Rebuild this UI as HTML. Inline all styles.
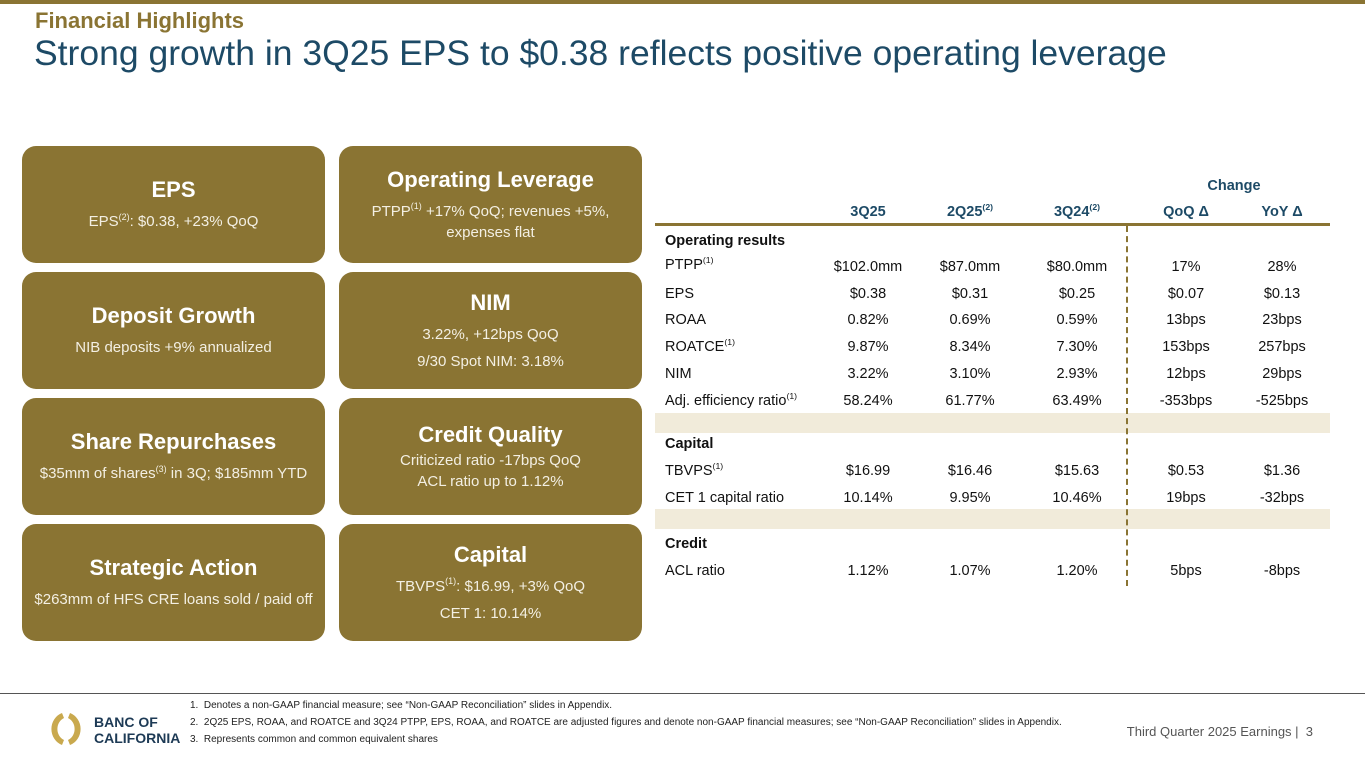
<!DOCTYPE html>
<html><head><meta charset="utf-8"><style>
*{margin:0;padding:0;box-sizing:border-box}
body{width:1365px;height:768px;background:#fff;font-family:"Liberation Sans",Arial,sans-serif;position:relative;overflow:hidden}
.abs{position:absolute}
.tile{position:absolute;width:303px;height:117px;background:#8a7433;border-radius:14px;color:#fff;text-align:center;display:flex;flex-direction:column;justify-content:center}
.tile h3{font-size:22px;font-weight:bold;margin-bottom:8px}
.tile p{font-size:15px;line-height:21px;color:#f3efe3}
sup{font-size:60%;vertical-align:baseline;position:relative;top:-0.7em;line-height:0}
.c{position:absolute;font-size:14.5px;line-height:17px;color:#111;text-align:center;width:110px;margin-left:-55px}
.l{position:absolute;left:665px;font-size:14.5px;line-height:17px;color:#111}
.h{position:absolute;font-size:14.5px;line-height:17px;font-weight:bold;color:#1d4a66;text-align:center;width:110px;margin-left:-55px}
.fn{position:absolute;left:190px;font-size:10px;color:#222}
</style></head><body>
<div class="abs" style="left:0;top:0;width:1365px;height:4px;background:#8a7433"></div>
<div class="abs" style="left:35px;top:8px;font-size:22px;font-weight:bold;color:#8a7433">Financial Highlights</div>
<div class="abs" style="left:34px;top:33px;font-size:35.5px;color:#1d4a66">Strong growth in 3Q25 EPS to $0.38 reflects positive operating leverage</div>

<div class="tile" style="left:22px;top:146px"><h3>EPS</h3><p>EPS<sup>(2)</sup>: $0.38, +23% QoQ</p></div>
<div class="tile" style="left:339px;top:146px"><h3>Operating Leverage</h3><p>PTPP<sup>(1)</sup> +17% QoQ; revenues +5%,<br>expenses flat</p></div>
<div class="tile" style="left:22px;top:272px"><h3>Deposit Growth</h3><p>NIB deposits +9% annualized</p></div>
<div class="tile" style="left:339px;top:272px"><h3>NIM</h3><p>3.22%, +12bps QoQ</p><p style="margin-top:6px">9/30 Spot NIM: 3.18%</p></div>
<div class="tile" style="left:22px;top:398px"><h3>Share Repurchases</h3><p>$35mm of shares<sup>(3)</sup> in 3Q; $185mm YTD</p></div>
<div class="tile" style="left:339px;top:398px"><h3 style="margin-bottom:2px">Credit Quality</h3><p>Criticized ratio -17bps QoQ<br>ACL ratio up to 1.12%</p></div>
<div class="tile" style="left:22px;top:524px"><h3>Strategic Action</h3><p>$263mm of HFS CRE loans sold / paid off</p></div>
<div class="tile" style="left:339px;top:524px"><h3>Capital</h3><p>TBVPS<sup>(1)</sup>: $16.99, +3% QoQ</p><p style="margin-top:6px">CET 1: 10.14%</p></div>

<div>
<div class="h" style="left:1234px;top:178px">Change</div>
<div class="h" style="left:868px;top:204px">3Q25</div>
<div class="h" style="left:970px;top:204px">2Q25<sup>(2)</sup></div>
<div class="h" style="left:1077px;top:204px">3Q24<sup>(2)</sup></div>
<div class="h" style="left:1186px;top:204px">QoQ &Delta;</div>
<div class="h" style="left:1282px;top:204px">YoY &Delta;</div>
<div class="abs" style="left:655px;top:223px;width:675px;height:3px;background:#8a7433"></div>
<div class="abs" style="left:655px;top:413px;width:675px;height:20px;background:#f1ebda"></div>
<div class="abs" style="left:655px;top:509px;width:675px;height:20px;background:#f1ebda"></div>
<div class="abs" style="left:1126px;top:226px;height:360px;border-left:2px dashed #8a7433"></div>
<div id="rows"></div>
</div>

<div class="abs" style="left:0;top:693px;width:1365px;height:1px;background:#555"></div>
<div class="abs" style="left:50px;top:711px;width:32px;height:36px">
<svg width="32" height="36"><path d="M12 2 A16 17 0 0 0 12 34 L14 29 A11 12 0 0 1 14 7Z" fill="#c9a94e"/><path d="M20 2 A16 17 0 0 1 20 34 L18 29 A11 12 0 0 0 18 7Z" fill="#c9a94e"/></svg></div>
<div class="abs" style="left:94px;top:714px;font-size:14px;font-weight:bold;color:#1d3a55;line-height:16px">BANC OF<br>CALIFORNIA</div>
<div class="fn" style="top:700px">1.&nbsp; Denotes a non-GAAP financial measure; see “Non-GAAP Reconciliation” slides in Appendix.</div>
<div class="fn" style="top:717px">2.&nbsp; 2Q25 EPS, ROAA, and ROATCE and 3Q24 PTPP, EPS, ROAA, and ROATCE are adjusted figures and denote non-GAAP financial measures; see “Non-GAAP Reconciliation” slides in Appendix.</div>
<div class="fn" style="top:734px">3.&nbsp; Represents common and common equivalent shares</div>
<div class="abs" style="right:52px;top:724px;font-size:13px;color:#555">Third Quarter 2025 Earnings |&nbsp; 3</div>

<script>
const rowLabels=["<b>Operating results</b>","PTPP<sup>(1)</sup>","EPS","ROAA","ROATCE<sup>(1)</sup>","NIM","Adj. efficiency ratio<sup>(1)</sup>","<b>Capital</b>","TBVPS<sup>(1)</sup>","CET 1 capital ratio","<b>Credit</b>","ACL ratio"];
const rowTops=[233,257,286,312,339,366,393,436,463,490,536,563];
const v3q25=["","$102.0mm","$0.38","0.82%","9.87%","3.22%","58.24%","","$16.99","10.14%","","1.12%"];
const v2q25=["","$87.0mm","$0.31","0.69%","8.34%","3.10%","61.77%","","$16.46","9.95%","","1.07%"];
const v3q24=["","$80.0mm","$0.25","0.59%","7.30%","2.93%","63.49%","","$15.63","10.46%","","1.20%"];
const vQoQ=["","17%","$0.07","13bps","153bps","12bps","-353bps","","$0.53","19bps","","5bps"];
const vYoY=["","28%","$0.13","23bps","257bps","29bps","-525bps","","$1.36","-32bps","","-8bps"];
const cols=[[v3q25,868],[v2q25,970],[v3q24,1077],[vQoQ,1186],[vYoY,1282]];
const host=document.getElementById('rows');
rowLabels.forEach((lab,i)=>{
  const l=document.createElement('div');l.className='l';l.style.top=rowTops[i]+'px';l.innerHTML=lab;
  
  
  host.appendChild(l);
  cols.forEach(([arr,x])=>{if(!arr[i])return;
    const d=document.createElement('div');d.className='c';d.style.left=x+'px';d.style.top=(rowTops[i]+(i==1?2:0))+'px';d.textContent=arr[i];
    
    
    host.appendChild(d);});
});
</script>
</body></html>
